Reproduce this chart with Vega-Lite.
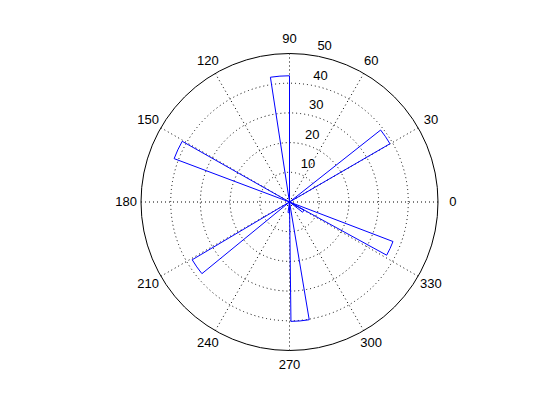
{
  "$schema": "https://vega.github.io/schema/vega-lite/v6.json",
  "width": 541,
  "height": 404,
  "autosize": "none",
  "padding": {"left": 19, "top": 0, "right": 0, "bottom": 16},
  "background": "white",
  "config": {"view": {"stroke": null}, "font": "Liberation Sans"},
  "datasets": {
    "rings": [{"r": 10}, {"r": 20}, {"r": 30}, {"r": 40}],
    "outer": [{"r": 50}],
    "spokes": [
      {"deg": 0, "x": 50, "y": 0, "x2": -50, "y2": 0},
      {"deg": 30, "x": 43.301, "y": 25, "x2": -43.301, "y2": -25},
      {"deg": 60, "x": 25, "y": 43.301, "x2": -25, "y2": -43.301},
      {"deg": 90, "x": 0, "y": 50, "x2": 0, "y2": -50},
      {"deg": 120, "x": -25, "y": 43.301, "x2": 25, "y2": -43.301},
      {"deg": 150, "x": -43.301, "y": 25, "x2": 43.301, "y2": -25}
    ],
    "angleLabels": [
      {"deg": 0, "label": "0"}, {"deg": 30, "label": "30"}, {"deg": 60, "label": "60"},
      {"deg": 90, "label": "90"}, {"deg": 120, "label": "120"}, {"deg": 150, "label": "150"},
      {"deg": 180, "label": "180"}, {"deg": 210, "label": "210"}, {"deg": 240, "label": "240"},
      {"deg": 270, "label": "270"}, {"deg": 300, "label": "300"}, {"deg": 330, "label": "330"}
    ],
    "radialLabels": [{"r": 10}, {"r": 20}, {"r": 30}, {"r": 40}, {"r": 50}],
    "wedges": [
      {"a0": 90, "a1": 98.7, "count": 42.5},
      {"a0": 30.1, "a1": 38.3, "count": 39.1},
      {"a0": 150.5, "a1": 159.4, "count": 41.5},
      {"a0": 210.7, "a1": 219.3, "count": 38.1},
      {"a0": 270.7, "a1": 279.5, "count": 40.2},
      {"a0": 331.3, "a1": 339.1, "count": 37.3},
      {"a0": 322, "a1": 330.5, "count": 5.6},
      {"a0": 262, "a1": 270.5, "count": 3.6}
    ]
  },
  "layer": [
    {
      "data": {"name": "rings"},
      "mark": {"type": "arc", "filled": false, "fill": null, "stroke": "black", "strokeWidth": 1, "strokeDash": [1, 3]},
      "encoding": {
        "theta": {"datum": 0, "type": "quantitative", "scale": {"type": "linear", "domain": [0, 360], "range": [1.5707963267948966, -4.71238898038469]}},
        "theta2": {"datum": 360},
        "radius": {"field": "r", "type": "quantitative", "stack": null, "scale": {"type": "linear", "domain": [0, 50], "range": [0, 148.5], "zero": true}}
      }
    },
    {
      "data": {"name": "spokes"},
      "mark": {"type": "rule", "stroke": "black", "strokeWidth": 1, "strokeDash": [1, 3]},
      "encoding": {
        "x": {"field": "x", "type": "quantitative", "axis": null, "scale": {"domain": [-91.077, 91.077], "nice": false, "zero": false}},
        "y": {"field": "y", "type": "quantitative", "axis": null, "scale": {"domain": [-68.013, 68.013], "nice": false, "zero": false}},
        "x2": {"field": "x2"},
        "y2": {"field": "y2"}
      }
    },
    {
      "data": {"name": "outer"},
      "mark": {"type": "arc", "filled": false, "fill": null, "stroke": "black", "strokeWidth": 1},
      "encoding": {
        "theta": {"datum": 0, "type": "quantitative"},
        "theta2": {"datum": 360},
        "radius": {"field": "r", "type": "quantitative", "stack": null}
      }
    },
    {
      "data": {"name": "angleLabels"},
      "mark": {"type": "text", "fontSize": 13, "align": "center", "baseline": "middle", "fill": "black"},
      "encoding": {
        "theta": {"field": "deg", "type": "quantitative", "stack": null},
        "radius": {"datum": 55},
        "text": {"field": "label"}
      }
    },
    {
      "data": {"name": "radialLabels"},
      "mark": {"type": "text", "fontSize": 13, "align": "left", "baseline": "bottom", "dx": 7, "radiusOffset": 1.5, "fill": "black"},
      "encoding": {
        "theta": {"datum": 82, "type": "quantitative"},
        "radius": {"field": "r", "type": "quantitative", "stack": null},
        "text": {"field": "r", "type": "quantitative"}
      }
    },
    {
      "data": {"name": "wedges"},
      "mark": {"type": "arc", "filled": false, "fill": null, "stroke": "#0000ff", "strokeWidth": 1},
      "encoding": {
        "theta": {"field": "a0", "type": "quantitative", "stack": null},
        "theta2": {"field": "a1"},
        "radius": {"field": "count", "type": "quantitative", "stack": null}
      }
    }
  ]
}
